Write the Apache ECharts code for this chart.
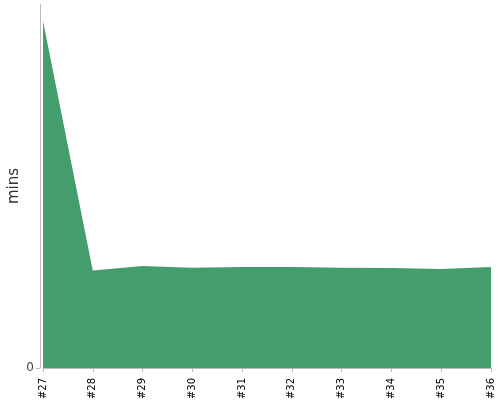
<!DOCTYPE html>
<html><head><meta charset="utf-8">
<script src="https://cdn.jsdelivr.net/npm/echarts@6/dist/echarts.min.js"></script>
<style>html,body{margin:0;padding:0;background:#fff}#c{width:500px;height:400px}</style>
</head><body><div id="c"></div>
<script>
var categories = ['#27','#28','#29','#30','#31','#32','#33','#34','#35','#36'];
var minsValues = [34.7, 9.75, 10.2, 10.03, 10.1, 10.1, 10.02, 10.0, 9.9, 10.1];
var yTickValues = [0];

var chart = echarts.init(document.getElementById('c'), null, {renderer:'canvas'});
chart.setOption({
  animation: false,
  grid: {left: 43, right: 9, top: 4, bottom: 32, containLabel: false, outerBoundsMode: 'none'},
  xAxis: {
    type: 'category', data: categories, boundaryGap: false, offset: 4,
    axisLine: {lineStyle: {color: '#bbb', width: 1}},
    axisTick: {length: 4, lineStyle: {color: '#bbb'}, alignWithLabel: true},
    axisLabel: {rotate: 90, color: '#000', fontSize: 10, margin: 6, fontFamily: 'DejaVu Sans', interval: 0},
    splitLine: {show: false}
  },
  yAxis: {
    type: 'value', min: 0, max: 36.4, offset: 3,
    name: 'mins', nameLocation: 'middle', nameGap: 18, nameMoveOverlap: false,
    nameTextStyle: {fontSize: 15, color: '#333', fontFamily: 'DejaVu Sans'},
    axisLine: {show: true, lineStyle: {color: '#bbb', width: 1}},
    axisTick: {show: true, length: 4, lineStyle: {color: '#bbb'}, customValues: yTickValues},
    axisLabel: {color: '#444', fontSize: 12, fontFamily: 'DejaVu Sans', margin: 6, customValues: yTickValues},
    splitLine: {show: false}
  },
  series: [{
    type: 'line', data: minsValues, symbol: 'none',
    lineStyle: {width: 0},
    areaStyle: {color: '#449d6d', opacity: 1}
  }]
});
</script></body></html>
